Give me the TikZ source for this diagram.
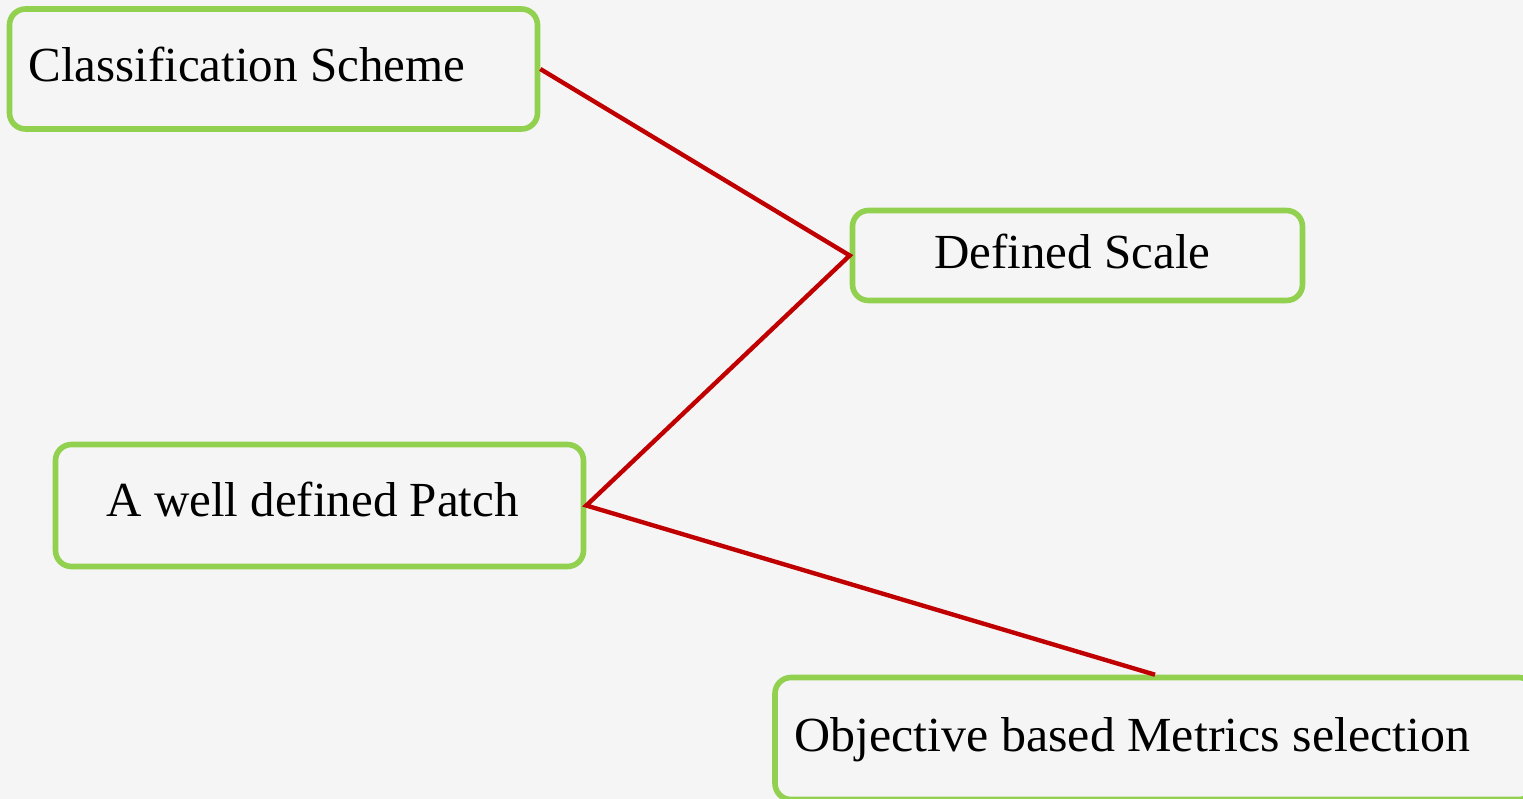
\documentclass[tikz,border=0pt]{standalone}
\usepackage{fontspec}
\setmainfont{Liberation Serif}
\definecolor{bgcol}{RGB}{245,245,245}
\definecolor{boxgreen}{RGB}{146,208,80}
\definecolor{linkred}{RGB}{192,0,0}
\begin{document}
\begin{tikzpicture}[x=0.5pt,y=-0.5pt,
  box/.style={draw=boxgreen, line width=2.8pt, rounded corners=8pt,
    rectangle, inner sep=0pt},
  lbl/.style={inner sep=0pt, anchor=base west,
    font=\fontsize{24.5pt}{29pt}\selectfont},
  link/.style={draw=linkred, line width=2.2pt, line join=miter}]
  % canvas
  \fill[bgcol] (0,0) rectangle (1523,799);
  \clip (0,0) rectangle (1523,799);
  % boxes
  \node[box, minimum width=264pt, minimum height=60pt] (cls) at (273.5,69) {};
  \node[box, minimum width=225pt, minimum height=45pt] (scl) at (1077.5,255.5) {};
  \node[box, minimum width=264pt, minimum height=61pt] (pat) at (319.5,505.5) {};
  \node[box, minimum width=380pt, minimum height=61pt] (obj) at (1155,738.5) {};
  % labels
  \node[lbl] (clsT) at (28,81) {Classification Scheme};
  \node[lbl] (sclT) at (934,268) {Defined Scale};
  \node[lbl] (patT) at (106,516) {A well defined Patch};
  \node[lbl, xscale=1.02] (objT) at (794,751) {Objective based Metrics selection};
  % connectors
  \draw[link] (cls.east) -- (scl.west) -- (pat.east) -- (obj.north);
\end{tikzpicture}
\end{document}
